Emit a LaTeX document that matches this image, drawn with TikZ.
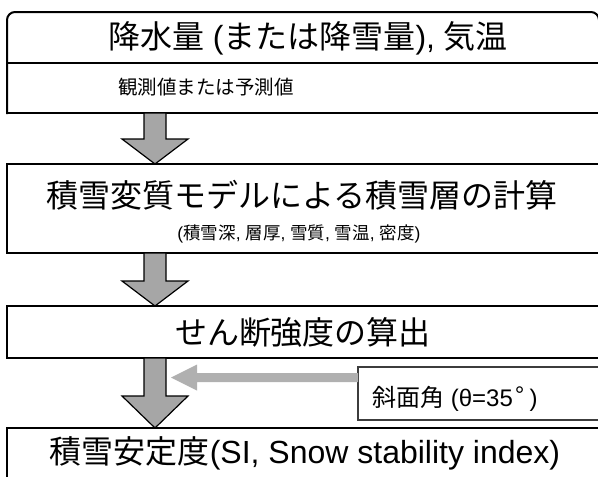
\documentclass[tikz,border=0pt]{standalone}
\usepackage{fontspec}
\setmainfont{Liberation Sans}
\newfontfamily\cjk{Noto Sans CJK JP}
\usetikzlibrary{calc}
\definecolor{arrowgray}{HTML}{A6A6A6}
\definecolor{lightarrow}{HTML}{B0B0B0}
\definecolor{slopeline}{HTML}{3C3C3C}
\newcommand\blockarrow[3]{%
  \path (#1.south -| ax) coordinate (s#1) (#2.north -| ax) coordinate (t#2);
  \draw[barrow] ([xshift=-11pt]s#1) -- ([xshift=-11pt,yshift=#3pt]t#2)
     -- ([xshift=-33pt,yshift=#3pt]t#2) -- (t#2)
     -- ([xshift=33pt,yshift=#3pt]t#2) -- ([xshift=11pt,yshift=#3pt]t#2)
     -- ([xshift=11pt]s#1) -- cycle;}
\begin{document}
\begin{tikzpicture}[x=1pt,y=-1pt,
  boxline/.style={draw=black, line width=2pt},
  plainbox/.style={anchor=north west, inner sep=0pt, outer sep=0pt, minimum width=594pt},
  mainbox/.style={plainbox, boxline, fill=white},
  slopebox/.style={anchor=north west, inner sep=0pt, outer sep=0pt, draw=slopeline, line width=1.2pt, fill=white},
  barrow/.style={fill=arrowgray, draw=black, line width=1.2pt, line join=miter},
  bigtext/.style={inner sep=0pt, font=\fontsize{32}{38}\selectfont},
  midtext/.style={inner sep=0pt, font=\fontsize{24}{29}\selectfont},
  smalltext/.style={inner sep=0pt, font=\fontsize{19.5}{23}\selectfont},
  tinytext/.style={inner sep=0pt, font=\fontsize{17.5}{20}\selectfont}]
\useasboundingbox (0,0) rectangle (598,477);
\clip (0,0) rectangle (598,477);
\fill[white] (0,0) rectangle (598,477);
\coordinate (ax) at (155,0);
\coordinate (tipx) at (171,0);
% box 1
\node[plainbox, minimum width=592pt, minimum height=101pt] (b1) at (7,12) {};
\draw[boxline, rounded corners=8pt, line cap=rect] (b1.south west) -- (b1.north west) -- (b1.north east) -- (b1.south east);
\draw[boxline, line cap=rect] (b1.south west) -- (b1.south east);
\draw[boxline] ([yshift=-51pt]b1.north west) -- ([yshift=-51pt]b1.north east);
\node[bigtext] (t1) at (308,38) {{\cjk 降水量} ({\cjk または降雪量}), {\cjk 気温}};
\node[smalltext, anchor=west] (s1) at (118,87) {\cjk 観測値または予測値};
% box 2
\node[mainbox, minimum height=89pt] (b2) at (7,164) {};
\node[bigtext] (t2) at (302,195) {\cjk 積雪変質モデルによる積雪層の計算};
\node[tinytext] (s2) at (299,234) {({\cjk 積雪深}, {\cjk 層厚}, {\cjk 雪質}, {\cjk 雪温}, {\cjk 密度})};
% box 3
\node[mainbox, minimum height=52pt] (b3) at (7,306) {};
\node[bigtext] (t3) at (303,332) {\cjk せん断強度の算出};
% box 4
\node[mainbox, minimum height=80pt] (b4) at (7,428) {};
\node[bigtext] (t4) at (305,453) {{\cjk 積雪安定度}(SI, Snow stability index)};
% slope box
\node[slopebox, minimum width=260pt, minimum height=53pt] (slope) at (358,367) {};
\node[midtext, anchor=west] (st) at (372,399) {{\cjk 斜面角} (θ=35\hspace{2pt}\raisebox{3pt}{°}\hspace{5pt})};
% arrows
\blockarrow{b1}{b2}{25}
\blockarrow{b2}{b3}{25}
\blockarrow{b3}{b4}{32}
% light gray arrow
\coordinate (gs) at ([yshift=-10.5pt]slope.north west);
\coordinate (gtip) at (gs -| tipx);
\fill[lightarrow] ([yshift=4.5pt]gs) -- ([xshift=26pt,yshift=4.5pt]gtip)
  -- ([xshift=26pt,yshift=13pt]gtip) -- (gtip)
  -- ([xshift=26pt,yshift=-13pt]gtip) -- ([xshift=26pt,yshift=-4.5pt]gtip)
  -- ([yshift=-4.5pt]gs) -- cycle;
\end{tikzpicture}
\end{document}
